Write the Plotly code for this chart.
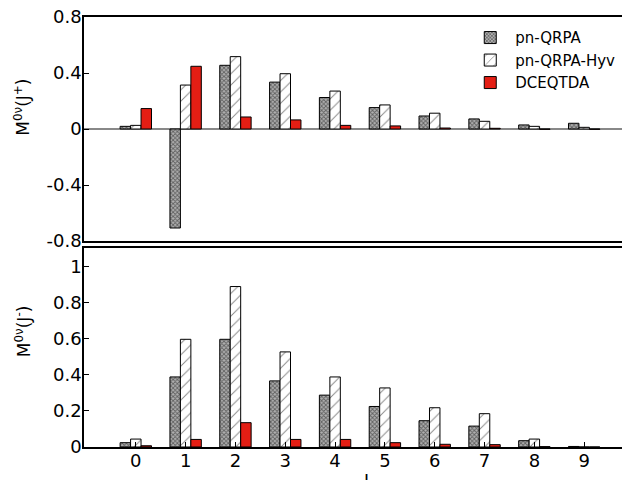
import plotly.graph_objects as go

J = [0, 1, 2, 3, 4, 5, 6, 7, 8, 9]
tick_text = ["0", "1", "2", "3", "4", "5", "6", "7", "8", "9"]

# Top panel: M^0v(J+)
qrpa_plus = [0.019, -0.707, 0.455, 0.335, 0.225, 0.153, 0.093, 0.072, 0.029, 0.041]
hyv_plus = [0.026, 0.314, 0.517, 0.395, 0.271, 0.172, 0.113, 0.055, 0.019, 0.012]
dce_plus = [0.146, 0.448, 0.086, 0.065, 0.026, 0.022, 0.007, 0.005, -0.002, -0.002]

# Bottom panel: M^0v(J-)
qrpa_minus = [0.024, 0.389, 0.598, 0.367, 0.288, 0.225, 0.146, 0.116, 0.035, 0.003]
hyv_minus = [0.044, 0.598, 0.891, 0.528, 0.389, 0.328, 0.218, 0.185, 0.044, 0.0]
dce_minus = [0.007, 0.042, 0.135, 0.042, 0.042, 0.024, 0.015, 0.013, 0.002, 0.0]

names = ["pn-QRPA", "pn-QRPA-Hyv", "DCEQTDA"]
RED = "#e41e14"

styles = [
    dict(color="#a0a0a0", pattern=dict(shape="x", size=3, solidity=0.5, fgcolor="#111111", bgcolor="#b0b0b0")),
    dict(color="white", pattern=dict(shape="/", size=8, solidity=0.12, fgcolor="#111111", bgcolor="white")),
    dict(color=RED),
]

fig = go.Figure()
for i, (name, ys) in enumerate(zip(names, [qrpa_plus, hyv_plus, dce_plus])):
    fig.add_trace(go.Bar(
        x=J, y=ys, name=name, xaxis="x", yaxis="y", offsetgroup=str(i),
        marker=dict(**styles[i], line=dict(color="black", width=1)),
        showlegend=True,
    ))
for i, (name, ys) in enumerate(zip(names, [qrpa_minus, hyv_minus, dce_minus])):
    fig.add_trace(go.Bar(
        x=J, y=ys, name=name, xaxis="x2", yaxis="y2", offsetgroup=str(i),
        marker=dict(**styles[i], line=dict(color="black", width=1)),
        showlegend=False,
    ))

FONT = "DejaVu Sans"
line_common = dict(showline=True, linecolor="black", linewidth=1.5, showgrid=False,
                   tickcolor="black", ticklen=5, automargin=False,
                   tickfont=dict(family=FONT, size=18, color="black"))

XR = [-1.04, 10.0]

fig.update_layout(
    width=630, height=480,
    margin=dict(l=76, r=4, t=9, b=41),
    paper_bgcolor="white", plot_bgcolor="white",
    barmode="group", bargap=0.37, bargroupgap=0,
    font=dict(family=FONT, size=17, color="black"),
    xaxis=dict(domain=[0, 1], range=XR, anchor="y", showticklabels=False,
               ticks="", mirror=True, tickvals=J, zeroline=False, **line_common),
    yaxis=dict(domain=[0.479, 1], range=[-0.8, 0.8], anchor="x",
               ticks="inside", mirror="ticks",
               tickvals=[-0.8, -0.4, 0, 0.4, 0.8], ticktext=["-0.8", "-0.4", "0", "0.4", "0.8"],
               ticklabelstandoff=-3, ticklabeloverflow="allow",
               zeroline=True, zerolinecolor="#888888", zerolinewidth=1.5, **line_common),
    xaxis2=dict(domain=[0, 1], range=XR, anchor="y2",
                ticks="inside", mirror=True, ticklabelstandoff=-3,
                tickvals=J, ticktext=tick_text, zeroline=False, ticklabeloverflow="allow",
                **line_common),
    yaxis2=dict(domain=[0, 0.4628], range=[0, 1.105], anchor="x2",
                ticks="inside", mirror="ticks",
                tickvals=[0, 0.2, 0.4, 0.6, 0.8, 1.0], ticktext=["0", "0.2", "0.4", "0.6", "0.8", "1"],
                ticklabelstandoff=-3, ticklabeloverflow="allow",
                zeroline=False, **line_common),
    legend=dict(x=0.975, xanchor="right", y=0.99, yanchor="top",
                bgcolor="rgba(0,0,0,0)", font=dict(family=FONT, size=15, color="black"),
                tracegroupgap=0, itemwidth=40),
    annotations=[
        dict(text="M<sup>0ν</sup>(J<sup>+</sup>)", textangle=-90, xref="paper", yref="paper",
             x=-0.112, y=0.79, xanchor="center", yanchor="middle", showarrow=False,
             font=dict(family=FONT, size=17, color="black")),
        dict(text="M<sup>0ν</sup>(J<sup>-</sup>)", textangle=-90, xref="paper", yref="paper",
             x=-0.112, y=0.268, xanchor="center", yanchor="middle", showarrow=False,
             font=dict(family=FONT, size=17, color="black")),
        dict(text="J", xref="paper", yref="paper", x=0.513, y=-0.052,
             xanchor="center", yanchor="top", showarrow=False,
             font=dict(family=FONT, size=17, color="black")),
    ],
)

fig.write_html("out.html")
